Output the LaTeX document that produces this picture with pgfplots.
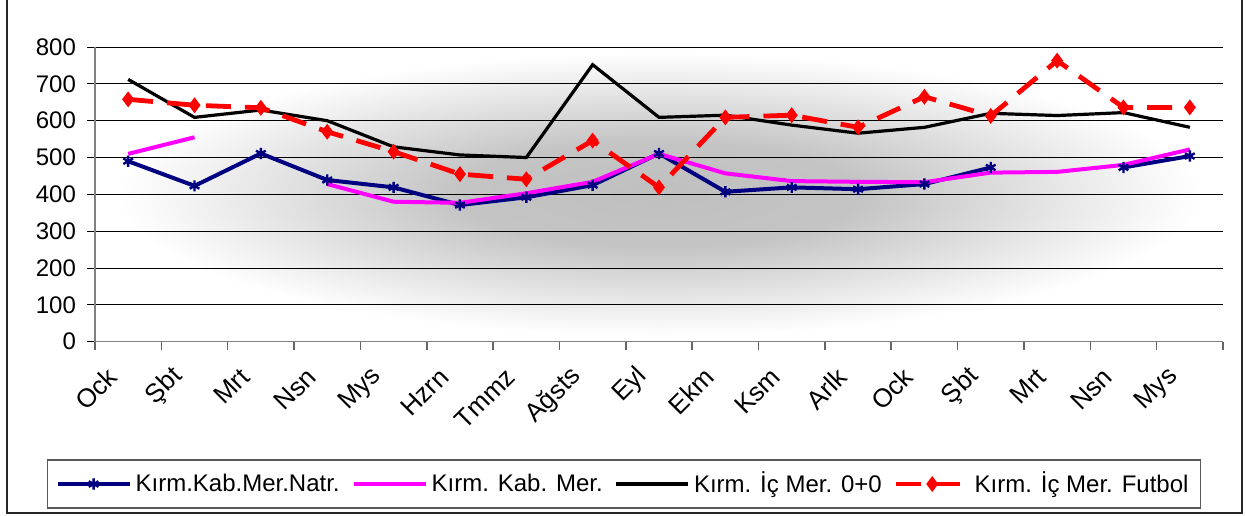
\documentclass[border=0pt]{standalone}
\usepackage{fontspec}
\setmainfont{Liberation Sans}
\usepackage{pgfplots}
\usepackage{pgfplotstable}
\pgfplotsset{compat=1.18}

\definecolor{navy}{RGB}{0,0,128}
\definecolor{fuchsia}{RGB}{255,0,255}

% soft grey glow behind the plot area
\pgfdeclareradialshading{plotbg}{\pgfpoint{0bp}{0bp}}{%
  color(0bp)=(black!25); color(9bp)=(black!23); color(24bp)=(white); color(50bp)=(white)}

\pgfplotstableread{
x natr kab ic futbol
0  490 510 712 658
1  423 555 609 642
2  511 nan 629 635
3  439 428 600 570
4  419 380 529 516
5  371 377 507 455
6  392 403 500 441
7  425 434 752 546
8  511 510 609 419
9  407 457 615 609
10 419 436 588 615
11 414 434 566 582
12 428 433 582 665
13 473 459 620 613
14 nan 461 614 763
15 473 480 622 636
16 504 522 582 636
}\data

\begin{document}
\begin{tikzpicture}
\useasboundingbox (0,0) rectangle (623.5pt,257.5pt);
\draw[line width=1pt, black!85] (3.4pt,0.8pt) rectangle (621pt,270pt);
\begin{axis}[
  at={(47.5pt,86.65pt)}, anchor=south west,
  scale only axis, width=564pt, height=147.35pt,
  xmin=-0.5, xmax=16.5, ymin=0, ymax=800,
  ytick={0,100,...,800},
  xtick={0,...,16},
  xticklabels={Ock,Şbt,Mrt,Nsn,Mys,Hzrn,Tmmz,Ağsts,Eyl,Ekm,Ksm,Arlk,Ock,Şbt,Mrt,Nsn,Mys},
  xtick style={draw=none},
  extra x ticks={-0.5,0.5,...,16.5},
  extra x tick labels={},
  extra x tick style={xtick style={draw=gray!80!black, line width=0.75pt}},
  axis x line*=bottom, axis y line*=left,
  axis line style={-, gray, line width=0.75pt},
  tick align=outside, major tick length=4pt,
  ytick style={black, line width=0.5pt},
  ymajorgrids, grid style={black, line width=0.5pt},
  tick label style={font=\fontsize{12}{14}\selectfont},
  /pgf/number format/assume math mode=true,
  xticklabel style={font=\fontsize{13}{15}\selectfont, xshift=-5.5pt, yshift=-9pt, rotate=45, anchor=east},
  yticklabel style={xshift=-2pt},
  axis background/.style={shading=plotbg},
  unbounded coords=jump,
  legend columns=4,
  legend style={at={(0.469,-0.483)}, anchor=center, draw=gray!70!black, line width=0.75pt,
    font=\fontsize{12}{14}\selectfont, inner xsep=4pt, inner ysep=4pt,
    /tikz/every even column/.append style={column sep=4pt}},
  legend image code/.code={\draw[mark repeat=2, mark phase=2] plot coordinates {(0pt,0pt) (18pt,0pt) (36pt,0pt)};},
]
\addplot[draw=navy, line width=2pt, mark=asterisk, mark size=2.8pt, mark options={solid, line width=1.2pt}] table[x=x, y=natr] {\data};
\addlegendentry{Kırm.Kab.Mer.Natr.}
\addplot[draw=fuchsia, line width=2pt, no marks] table[x=x, y=kab] {\data};
\addlegendentry{Kırm. Kab. Mer.}
\addplot[draw=black, line width=1.6pt, no marks] table[x=x, y=ic] {\data};
\addlegendentry{Kırm. İç Mer. 0+0}
\addplot[draw=red, line width=2.4pt, dash pattern=on 12.5pt off 7pt, mark=diamond*, mark size=2pt, mark options={solid, fill=red}] table[x=x, y=futbol] {\data};
\addlegendentry{Kırm. İç Mer. Futbol}
\end{axis}
\end{tikzpicture}
\end{document}
